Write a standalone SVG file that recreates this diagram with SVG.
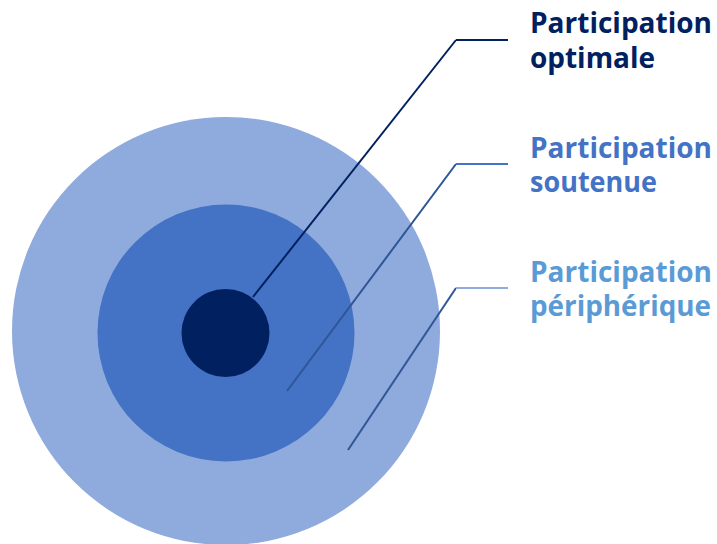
<svg xmlns="http://www.w3.org/2000/svg" width="717" height="544" viewBox="0 0 717 544">
<style>
.lbl{font-family:"Open Sans","Noto Sans","Liberation Sans",sans-serif;font-weight:bold;font-size:28px}
.ln{fill:none;stroke-width:2;stroke-linecap:butt}
</style>
<rect width="717" height="544" fill="#ffffff"/>
<g id="outer"><circle cx="226" cy="331" r="214" fill="#8faadc"/></g>
<g id="middle"><circle cx="226" cy="333" r="128.5" fill="#4472c4"/></g>
<g id="connectors">
<line class="ln" x1="253" y1="297" x2="456" y2="40" stroke="#002060"/>
<line class="ln" x1="456" y1="40" x2="508" y2="40" stroke="#002060"/>
<line class="ln" x1="287" y1="391" x2="456" y2="164" stroke="#2f5597"/>
<line class="ln" x1="456" y1="164" x2="508" y2="164" stroke="#4472c4" stroke-width="2.5"/>
<line class="ln" x1="348" y1="450" x2="456" y2="288" stroke="#2f5597"/>
<line class="ln" x1="456" y1="288" x2="508" y2="288" stroke="#8faadc" stroke-width="2.5"/>
</g>
<g id="inner"><circle cx="225.5" cy="333" r="44" fill="#002060"/></g>
<g id="label-optimale" fill="#002060">
<text class="lbl" x="530" y="33" textLength="182" lengthAdjust="spacingAndGlyphs">Participation</text>
<text class="lbl" x="530" y="68" textLength="125" lengthAdjust="spacingAndGlyphs">optimale</text>
</g>
<g id="label-soutenue" fill="#4472c4">
<text class="lbl" x="530" y="158" textLength="182" lengthAdjust="spacingAndGlyphs">Participation</text>
<text class="lbl" x="530" y="192" textLength="127" lengthAdjust="spacingAndGlyphs">soutenue</text>
</g>
<g id="label-peripherique" fill="#5b9bd5">
<text class="lbl" x="530" y="282" textLength="182" lengthAdjust="spacingAndGlyphs">Participation</text>
<text class="lbl" x="530" y="316" textLength="181" lengthAdjust="spacingAndGlyphs">périphérique</text>
</g>
</svg>
